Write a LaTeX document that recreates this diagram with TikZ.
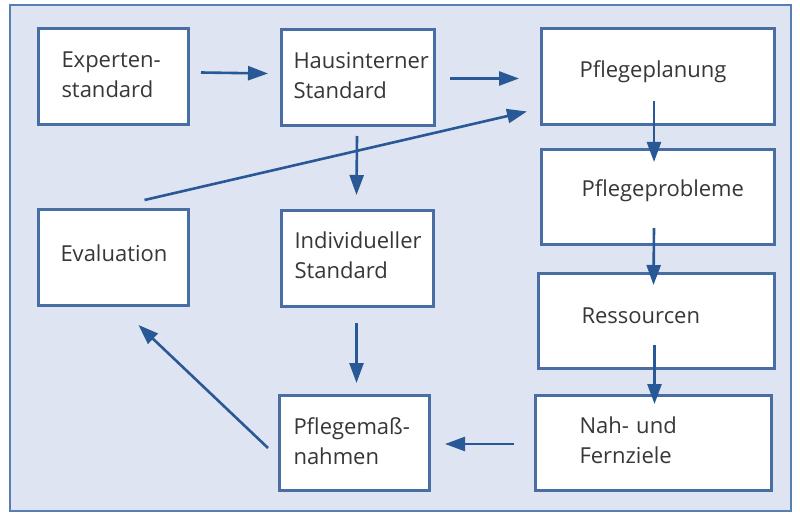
\documentclass[tikz,border=0pt]{standalone}
\usepackage{fontspec}
\setmainfont{Open Sans}
\usetikzlibrary{arrows.meta,calc}
\hyphenpenalty=10000
\exhyphenpenalty=10000
\definecolor{bgblue}{RGB}{222,228,241}
\definecolor{framecol}{RGB}{88,126,178}
\definecolor{boxcol}{RGB}{72,110,164}
\definecolor{arrcol}{RGB}{40,88,150}
\definecolor{txtcol}{RGB}{55,55,55}
\tikzset{
  box/.style={draw=boxcol, line width=3pt, fill=white, anchor=north west,
    inner ysep=0pt, align=left, text=txtcol,
    font=\fontsize{22}{30}\selectfont},
  oneline/.style={text height=49pt, text depth=47pt},
  twoline/.style={text height=39pt, text depth=57pt},
  arr/.style={draw=arrcol, line width=2.6pt,
    -{Triangle[length=20pt,width=14pt]}},
}
\begin{document}
\begin{tikzpicture}[x=1pt,y=-1pt]
\useasboundingbox (0,0) rectangle (800,513);
\draw[fill=bgblue, draw=framecol, line width=2pt] (10,5) rectangle (791,511);

\node[box, twoline, inner xsep=23pt, text width=104pt] (exp) at (37,27) {Experten-\\standard};
\node[box, twoline, inner xsep=12pt, text width=129pt] (haus) at (280,28) {Hausinterner\\Standard};
\node[box, oneline, inner xsep=38pt, text width=157pt] (plan) at (540,27) {Pflegeplanung};
\node[box, oneline, inner xsep=40pt, text width=153pt, text height=47pt, text depth=48pt] (prob) at (540,148) {Pflegeprobleme};
\node[box, oneline, inner xsep=43pt, text width=150pt, text height=50pt, text depth=45pt] (res) at (537,272) {Ressourcen};
\node[box, twoline, inner xsep=44pt, text width=148pt, text height=38pt] (nah) at (534,394) {Nah- und\\Fernziele};
\node[box, twoline, inner xsep=14pt, text width=122pt, text depth=56pt] (mass) at (278,394) {Pflegemaß-\\nahmen};
\node[box, oneline, inner xsep=22pt, text width=106pt, text height=52pt, text depth=44pt] (eval) at (37,208) {Evaluation};
\node[box, twoline, inner xsep=13pt, text width=126pt, text height=38pt, text depth=58pt] (ind) at (280,209) {Individueller\\Standard};

\draw[arr] ([shift={(11pt,4pt)}]exp.east) -- ([shift={(-12pt,4pt)}]haus.west);
\draw[arr] ([shift={(14pt,-1pt)}]haus.east) -- ([shift={(-21pt,-2pt)}]plan.west);
\draw[arr] ([shift={(-1pt,-9pt)}]haus.south) -- ([shift={(-1pt,14pt)}]ind.north);
\draw[arr] ([shift={(-1pt,-15pt)}]ind.south) -- ([shift={(2pt,11pt)}]mass.north);
\draw[arr] ([shift={(-4pt,25pt)}]plan.south) -- ([shift={(-4pt,-14pt)}]prob.north);
\draw[arr] ([shift={(-4pt,18pt)}]prob.south) -- ([shift={(-3pt,-13pt)}]res.north);
\draw[arr] ([shift={(-2pt,25pt)}]res.south) -- ([shift={(1pt,-10pt)}]nah.north);
\draw[arr] ([shift={(-20pt,-1pt)}]nah.west) -- ([shift={(14pt,-1pt)}]mass.east);
\draw[arr] ([shift={(-10pt,-5pt)}]mass.west) -- ([shift={(25pt,-18pt)}]eval.south);
\draw[arr] ([shift={(31pt,8pt)}]eval.north) -- ([shift={(-13pt,-35pt)}]plan.west);
\end{tikzpicture}
\end{document}
